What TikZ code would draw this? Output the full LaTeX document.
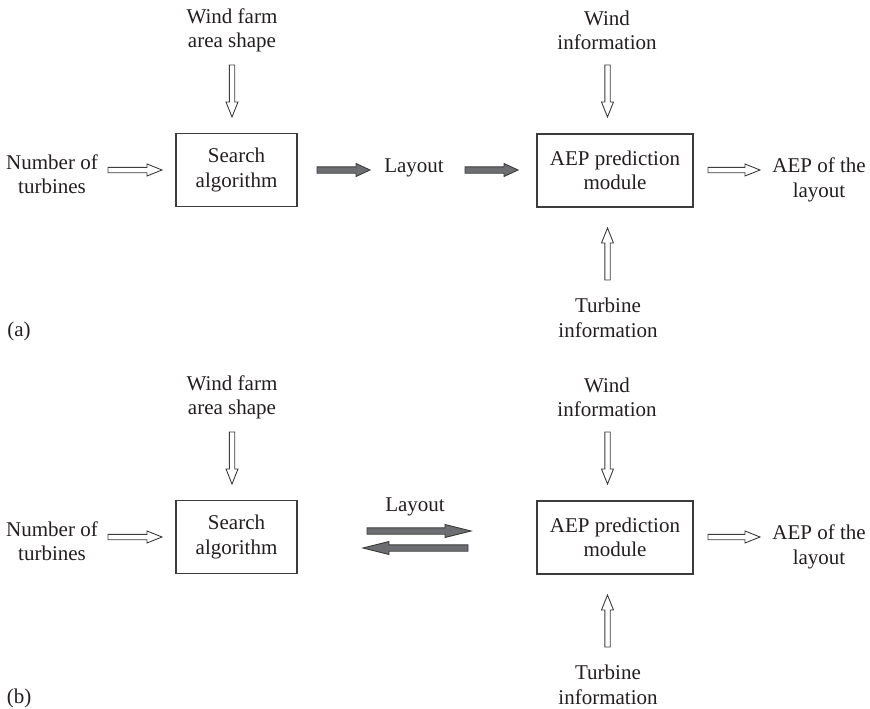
\documentclass[tikz,border=0pt]{standalone}
\usepackage{fontspec}
\setmainfont{Liberation Serif}
\usetikzlibrary{calc}
\definecolor{ink}{HTML}{231F20}
\definecolor{edge}{HTML}{3C3C3C}
\definecolor{slate}{HTML}{6D6E71}
\tikzset{
  txt/.style={font=\fontsize{21}{24.5}\selectfont, align=center, text=ink, inner sep=0pt},
  unit/.style={txt, draw=edge, line width=1.2pt, minimum height=73pt},
  % block arrow polygon: #1 half shaft width, #2 half head width, #3 head length
  blockarrow/.style n args={3}{to path={
    ($(\tikztostart)!#1!90:(\tikztotarget)$)
    -- ($(\tikztotarget)!#3!(\tikztostart)!#1!-90:(\tikztostart)$)
    -- ($(\tikztotarget)!#3!(\tikztostart)!#2!-90:(\tikztostart)$)
    -- (\tikztotarget)
    -- ($(\tikztotarget)!#3!(\tikztostart)!#2!90:(\tikztostart)$)
    -- ($(\tikztotarget)!#3!(\tikztostart)!#1!90:(\tikztostart)$)
    -- ($(\tikztostart)!#1!-90:(\tikztotarget)$)
    -- cycle}},
  openarrow/.style={blockarrow={2.7pt}{6pt}{15pt}, draw=edge, fill=white, line width=0.9pt, line join=miter},
  greyarrow/.style={blockarrow={3.2pt}{6.5pt}{14pt}, draw=edge, fill=slate, line width=0.9pt, line join=miter},
  longgrey/.style={blockarrow={3.2pt}{6.5pt}{26pt}, draw=edge, fill=slate, line width=0.9pt, line join=miter}
}
\begin{document}
\begin{tikzpicture}[x=1pt,y=-1pt]
\useasboundingbox[fill=white] (0,0) rectangle (870,709);

% parts shared by both variants
\foreach \s/\dy in {a/0,b/367}{
  \node[txt] (farm\s) at (232,30.5+\dy) {Wind farm\\area shape};
  \node[unit, minimum width=121pt] (search\s) at (236.5,170+\dy) {Search\\algorithm};
  \node[txt] (turb\s) at (52,174+\dy) {Number of\\turbines};
  \node[unit, minimum width=156pt] (aep\s) at (615,170.5+\dy) {AEP prediction\\module};
  \node[txt] (wind\s) at (607,30.5+\dy) {Wind\\information};
  \node[txt] (tinfo\s) at (608,318+\dy) {Turbine\\information};
  \node[txt] (out\s) at (819,180+\dy) {AEP of the\\layout};
  \node[txt] (tag\s) at (19,331+\dy) {(\s)};

  \coordinate (farmS\s) at (232,65+\dy);
  \coordinate (farmE\s) at (232,117+\dy);
  \coordinate (turbS\s) at (108,170+\dy);
  \coordinate (turbE\s) at (162,170+\dy);
  \coordinate (windS\s) at (607.5,65+\dy);
  \coordinate (windE\s) at (607.5,117+\dy);
  \coordinate (tinfoS\s) at (607.5,280+\dy);
  \coordinate (tinfoE\s) at (607.5,228+\dy);
  \coordinate (outS\s) at (708,170+\dy);
  \coordinate (outE\s) at (760,170+\dy);

  \path[openarrow] (farmS\s) to (farmE\s);
  \path[openarrow] (turbS\s) to (turbE\s);
  \path[openarrow] (windS\s) to (windE\s);
  \path[openarrow] (tinfoS\s) to (tinfoE\s);
  \path[openarrow] (outS\s) to (outE\s);
}

% (a): one-way flow through the layout
\node[txt] (layouta) at (414,168) {Layout};
\coordinate (l1S) at (317,170);
\coordinate (l1E) at (370,170);
\coordinate (l2S) at (465,170);
\coordinate (l2E) at (518,170);
\path[greyarrow] (l1S) to (l1E);
\path[greyarrow] (l2S) to (l2E);

% (b): two-way exchange of the layout
\node[txt] (layoutb) at (415,507) {Layout};
\coordinate (fwS) at (367,531);
\coordinate (fwE) at (471,531);
\coordinate (bkS) at (468,548);
\coordinate (bkE) at (363,548);
\path[longgrey] (fwS) to (fwE);
\path[longgrey] (bkS) to (bkE);
\end{tikzpicture}
\end{document}
